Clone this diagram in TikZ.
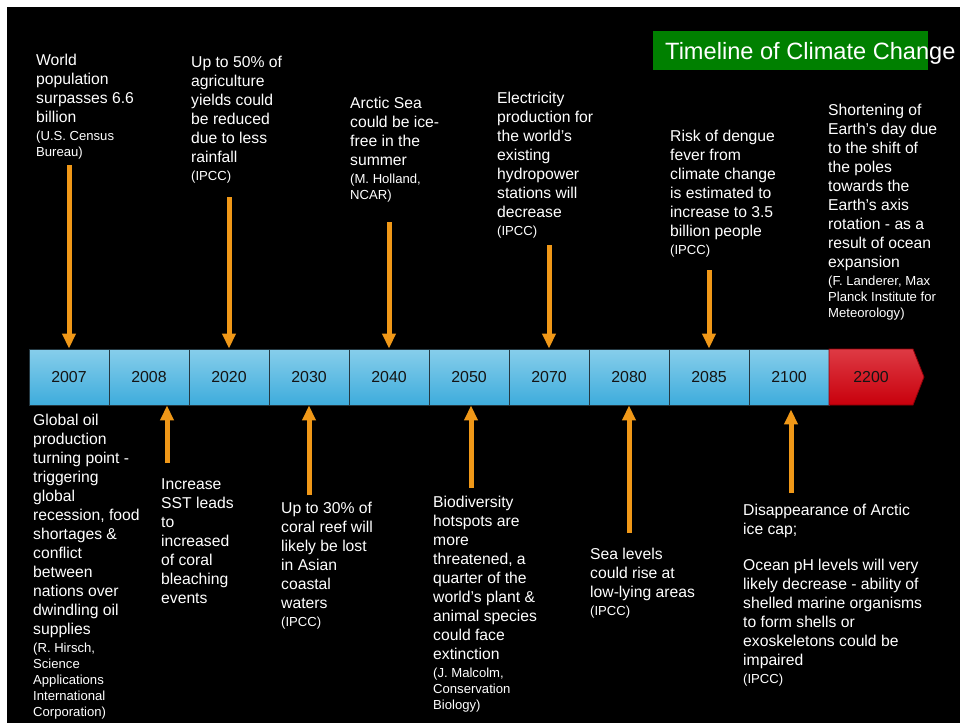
\documentclass[tikz,border=0pt]{standalone}
\usepackage{fontspec}
\setmainfont{Liberation Sans}
\usetikzlibrary{arrows.meta}
\definecolor{arrorange}{RGB}{240,152,24}
\definecolor{celltop}{RGB}{135,206,235}
\definecolor{cellbot}{RGB}{62,172,220}
\definecolor{celledge}{RGB}{35,55,65}
\definecolor{redtop}{RGB}{222,58,68}
\definecolor{redbot}{RGB}{200,0,12}
\definecolor{titlegreen}{RGB}{0,128,0}
\definecolor{yeartext}{RGB}{20,20,20}
\newcommand\srcf{\fontsize{13.1}{16}\selectfont}
\begin{document}
\begin{tikzpicture}[x=1pt,y=-1pt,
  txt/.style={anchor=north west, inner sep=0pt, align=left, text=white, font=\fontsize{15.7}{19}\selectfont},
  cell/.style={draw=celledge, line width=0.8pt, minimum width=80pt, minimum height=56pt, inner sep=0pt, top color=celltop, bottom color=cellbot, font=\fontsize{15.9}{19}\selectfont, text=yeartext},
  arr/.style={draw=arrorange, line width=5pt, -{Triangle[width=13pt,length=15pt]}},
]
\useasboundingbox (0,0) rectangle (960,723);
\fill[white] (0,0) rectangle (960,723);
\fill[black] (7,7) rectangle (960,723);

% title
\fill[titlegreen] (653,31) rectangle (928,70);
\node[anchor=base west, text=white, font=\fontsize{23.6}{28}\selectfont, inner sep=0pt] (title) at (665,59) {Timeline of Climate Change};

% timeline bar
\foreach \yr [count=\i from 0] in {2007,2008,2020,2030,2040,2050,2070,2080,2085,2100}
  \node[cell] (y\yr) at (69+80*\i, 377) {\yr};
\shade[top color=redtop, bottom color=redbot, draw=redbot!70!black, line width=0.8pt]
  (829,349) -- (913,349) -- (924,377) -- (913,405) -- (829,405) -- cycle;
\node[inner sep=0pt, font=\fontsize{15.9}{19}\selectfont, text=yeartext] (y2200) at (871,377) {2200};

% arrows
\coordinate (a2007) at (69,165);
\coordinate (a2020) at (229,197);
\coordinate (a2040) at (389,222);
\coordinate (a2070) at (549,245);
\coordinate (a2085) at (709,270);
\coordinate (a2008) at (167,463);
\coordinate (a2030) at (309,495);
\coordinate (a2050) at (471,488);
\coordinate (a2080) at (629,533);
\coordinate (a2100) at (791,493);
\foreach \yr in {2007,2020,2040,2070,2085}
  \draw[arr] (a\yr) -- (a\yr |- y\yr.north);
\foreach \yr in {2008,2030,2050,2080}
  \draw[arr] (a\yr) -- (a\yr |- y\yr.south);
\draw[arr, shorten >=4pt] (a2100) -- (a2100 |- y2100.south);

% texts above
\node[txt] (t2007) at (36,54) {World\\population\\surpasses 6.6\\billion\\[-1pt]\srcf (U.S. Census\\[-3pt]\srcf Bureau)};
\node[txt] (t2020) at (191,56) {Up to 50\% of\\agriculture\\yields could\\be reduced\\due to less\\rainfall\\[-1pt]\srcf (IPCC)};
\node[txt] (t2040) at (350,97) {Arctic Sea\\could be ice-\\free in the\\summer\\[-1pt]\srcf (M. Holland,\\[-3pt]\srcf NCAR)};
\node[txt] (t2070) at (497,92) {Electricity\\production for\\the world’s\\existing\\hydropower\\stations will\\decrease\\[-1pt]\srcf (IPCC)};
\node[txt] (t2085) at (670,130) {Risk of dengue\\fever from\\climate change\\is estimated to\\increase to 3.5\\billion people\\[-1pt]\srcf (IPCC)};
\node[txt] (t2200) at (828,104) {Shortening of\\Earth’s day due\\to the shift of\\the poles\\towards the\\Earth’s axis\\rotation - as a\\result of ocean\\expansion\\[-1pt]\srcf (F. Landerer, Max\\[-3pt]\srcf Planck Institute for\\[-3pt]\srcf Meteorology)};

% texts below
\node[txt] (b2007) at (33,414) {Global oil\\production\\turning point -\\triggering\\global\\recession, food\\shortages \&\\conflict\\between\\nations over\\dwindling oil\\supplies\\[-1pt]\srcf (R. Hirsch,\\[-3pt]\srcf Science\\[-3pt]\srcf Applications\\[-3pt]\srcf International\\[-3pt]\srcf Corporation)};
\node[txt] (b2008) at (161,478) {Increase\\SST leads\\to\\increased\\of coral\\bleaching\\events};
\node[txt] (b2030) at (281,502) {Up to 30\% of\\coral reef will\\likely be lost\\in Asian\\coastal\\waters\\[-1pt]\srcf (IPCC)};
\node[txt] (b2050) at (433,496) {Biodiversity\\hotspots are\\more\\threatened, a\\quarter of the\\world’s plant \&\\animal species\\could face\\extinction\\[-1pt]\srcf (J. Malcolm,\\[-3pt]\srcf Conservation\\[-3pt]\srcf Biology)};
\node[txt] (b2080) at (590,548) {Sea levels\\could rise at\\low-lying areas\\[-1pt]\srcf (IPCC)};
\node[txt] (b2100) at (743,504) {Disappearance of Arctic\\ice cap;\\[17pt]Ocean pH levels will very\\likely decrease - ability of\\shelled marine organisms\\to form shells or\\exoskeletons could be\\impaired\\[-1pt]\srcf (IPCC)};
\end{tikzpicture}
\end{document}
